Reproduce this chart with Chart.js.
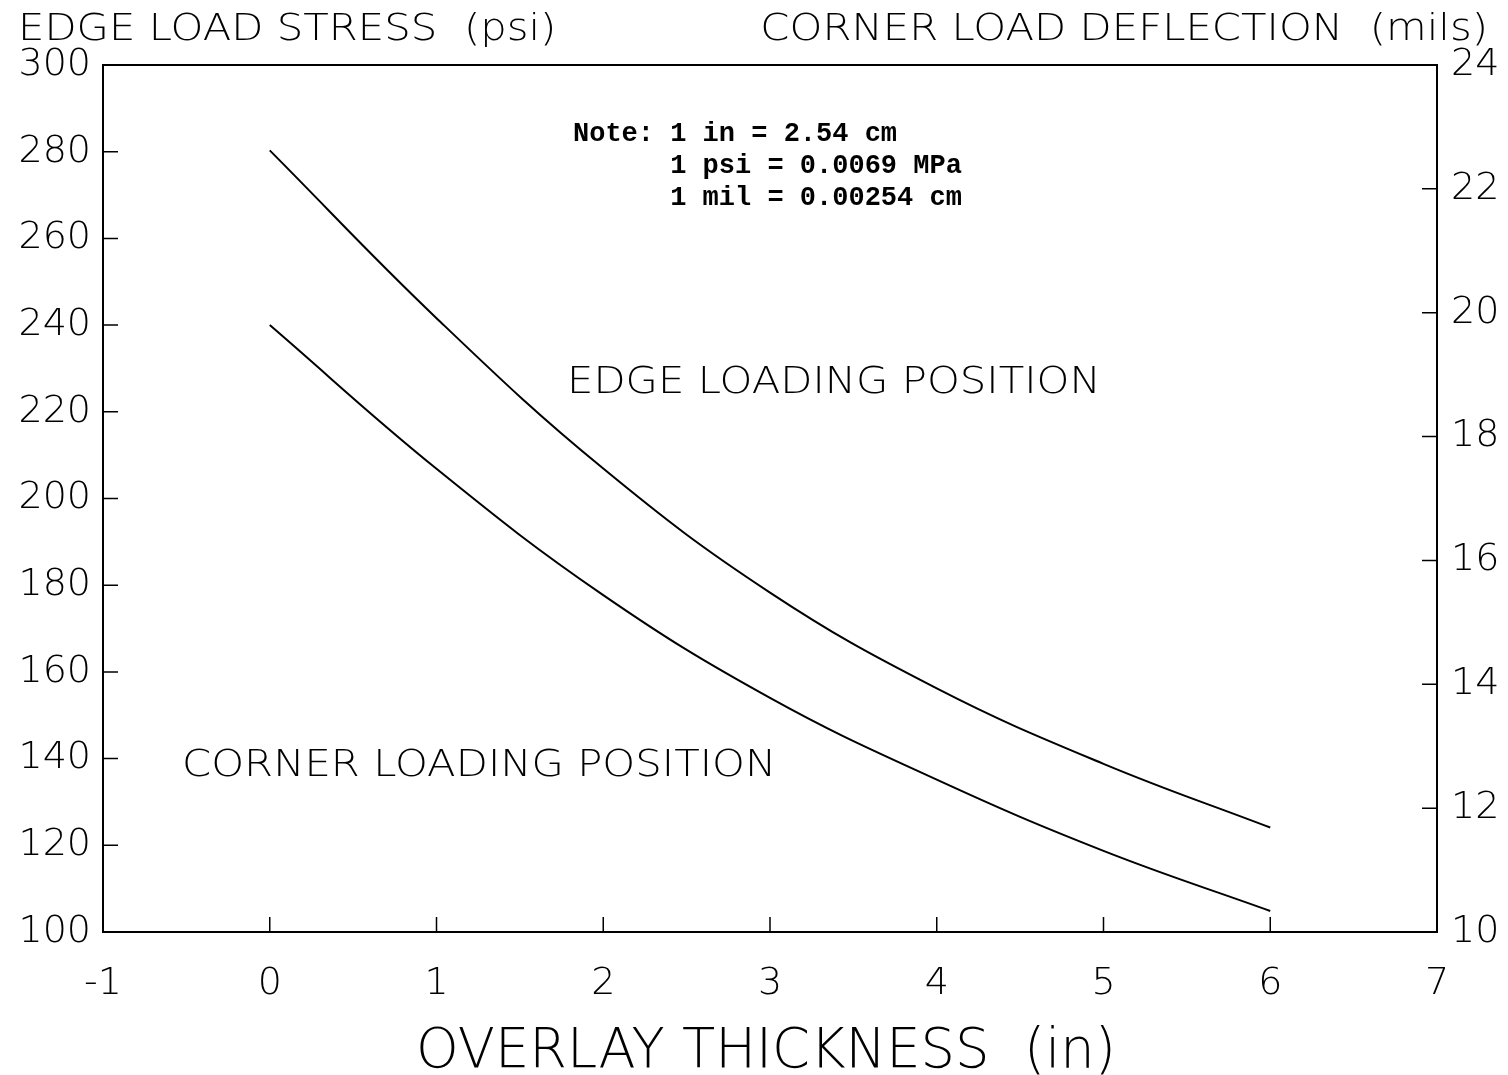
<!DOCTYPE html>
<html>
<head>
<meta charset="utf-8">
<script src="https://cdn.jsdelivr.net/npm/chart.js@4.4.1/dist/chart.umd.min.js"></script>
<style>
  html, body { margin: 0; padding: 0; background: #fff; }
  #wrap { width: 1508px; height: 1075px; }
</style>
</head>
<body>
<div id="wrap"><canvas id="chart"></canvas></div>
<script>
// overlay thickness (in)
const thickness = [0, 1, 2, 3, 4, 5, 6];
// edge load stress (psi), left axis
const edgeStress = [280.3, 241.6, 206.9, 178.3, 156.2, 138.8, 124.1];
// corner load deflection (mils), right axis
const cornerDeflection = [19.80, 17.48, 15.44, 13.78, 12.46, 11.31, 10.34];

const noteLines = ['Note: 1 in = 2.54 cm', '      1 psi = 0.0069 MPa', '      1 mil = 0.00254 cm'];

const FONT = '"DejaVu Sans", "Liberation Sans", sans-serif';
const tickFont = { family: FONT, size: 38, weight: 200 };

const toPoints = (xs, ys) => xs.map((x, i) => ({ x: x, y: ys[i] }));

// text stretched horizontally, the plotter font is wider than DejaVu
function wideText(ctx, s, x, y, sx, align) {
    ctx.save();
    ctx.translate(x, y);
    ctx.scale(sx, 1);
    ctx.textAlign = align;
    ctx.fillText(s, 0, 0);
    ctx.restore();
}

// inward tick marks, top frame line and free text
const decor = {
    id: 'decor',
    afterDraw(chart) {
        const ctx = chart.ctx;
        const a = chart.chartArea;
        ctx.save();
        ctx.strokeStyle = '#000';
        ctx.lineWidth = 2;
        ctx.beginPath();
        ctx.moveTo(a.left, a.top);
        ctx.lineTo(a.right, a.top);
        ctx.stroke();

        const len = 15;
        const sx = chart.scales.x, sy = chart.scales.y, sy2 = chart.scales.y2;
        ctx.lineWidth = 1.5;
        ctx.beginPath();
        sx.ticks.forEach(t => {
            if (t.value <= sx.min || t.value >= sx.max) return;
            const px = sx.getPixelForValue(t.value);
            ctx.moveTo(px, a.bottom);
            ctx.lineTo(px, a.bottom - len);
        });
        sy.ticks.forEach(t => {
            const py = sy.getPixelForValue(t.value);
            ctx.moveTo(a.left, py);
            ctx.lineTo(a.left + len, py);
        });
        sy2.ticks.forEach(t => {
            const py = sy2.getPixelForValue(t.value);
            ctx.moveTo(a.right, py);
            ctx.lineTo(a.right - len, py);
        });
        ctx.stroke();

        ctx.fillStyle = '#000';
        ctx.textBaseline = 'alphabetic';
        ctx.font = '200 38px ' + FONT;
        wideText(ctx, 'EDGE LOAD STRESS  (psi)', 18, 40, 1.1, 'left');
        wideText(ctx, 'CORNER LOAD DEFLECTION  (mils)', 1488, 40, 1.1, 'right');
        wideText(ctx, 'EDGE LOADING POSITION', 567, 393, 1.1, 'left');
        wideText(ctx, 'CORNER LOADING POSITION', 182, 776, 1.1, 'left');

        ctx.font = '200 56px ' + FONT;
        wideText(ctx, 'OVERLAY THICKNESS  (in)', 766, 1067, 0.97, 'center');

        ctx.font = 'bold 27px "Liberation Mono", monospace';
        ctx.textAlign = 'left';
        noteLines.forEach((s, i) => ctx.fillText(s, 573, 141 + i * 32));
        ctx.restore();
    }
};

new Chart(document.getElementById('chart'), {
    type: 'line',
    data: {
        datasets: [{
            label: 'Edge loading position',
            data: toPoints(thickness, edgeStress),
            yAxisID: 'y',
            borderColor: '#000',
            borderWidth: 2,
            pointRadius: 0,
            fill: false,
            tension: 0.4
        }, {
            label: 'Corner loading position',
            data: toPoints(thickness, cornerDeflection),
            yAxisID: 'y2',
            borderColor: '#000',
            borderWidth: 2,
            pointRadius: 0,
            fill: false,
            tension: 0.4
        }]
    },
    options: {
        responsive: true,
        maintainAspectRatio: false,
        animation: false,
        devicePixelRatio: 1,
        layout: { padding: { top: 65, left: 0, right: 0, bottom: 0 } },
        plugins: {
            legend: { display: false },
            tooltip: { enabled: false }
        },
        scales: {
            x: {
                type: 'linear',
                min: -1,
                max: 7,
                ticks: { stepSize: 1, color: '#000', font: tickFont, padding: 29 },
                grid: { display: false, drawTicks: false },
                border: { display: true, color: '#000', width: 2 },
                afterFit: (s) => { s.height = 143; }
            },
            y: {
                position: 'left',
                min: 100,
                max: 300,
                ticks: { stepSize: 20, color: '#000', font: tickFont, padding: 12 },
                grid: { display: false, drawTicks: false },
                border: { display: true, color: '#000', width: 2 },
                afterFit: (s) => { s.width = 103; }
            },
            y2: {
                position: 'right',
                min: 10,
                max: 24,
                ticks: { stepSize: 2, color: '#000', font: tickFont, padding: 14 },
                grid: { display: false, drawTicks: false },
                border: { display: true, color: '#000', width: 2 },
                afterFit: (s) => { s.width = 71; }
            }
        }
    },
    plugins: [decor]
});
</script>
</body>
</html>
